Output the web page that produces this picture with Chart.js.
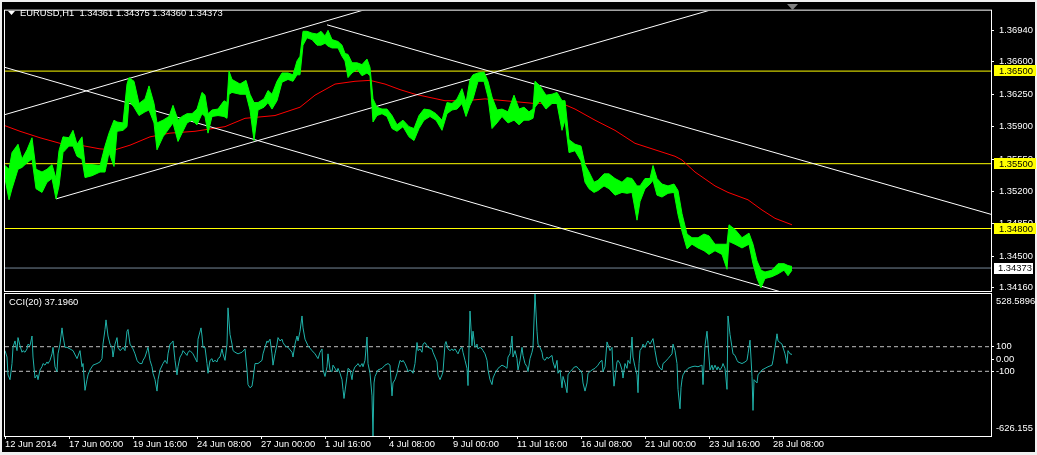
<!DOCTYPE html>
<html>
<head>
<meta charset="utf-8">
<title>EURUSD,H1</title>
<script src="https://cdn.jsdelivr.net/npm/chart.js@4.4.0/dist/chart.umd.min.js"></script>
<style>
    html, body { margin: 0; padding: 0; background: #f0f0f0; }
    #wrap { position: relative; width: 1037px; height: 455px; overflow: hidden; }
    #bg { position: absolute; left: 2px; top: 2px; width: 1033px; height: 450px; background: #000; }
    canvas { position: absolute; left: 0; top: 0; }
</style>
</head>
<body>
<div id="wrap">
    <div id="bg"></div>
    <canvas id="priceChart" width="1037" height="455"></canvas>
    <canvas id="cciChart" width="1037" height="455"></canvas>
</div>
<script>
// EURUSD H1 - price window + CCI(20) window
// x values are bar numbers (1 bar = 1 hour, first visible bar = 0)

const xTickBars = [0, 64, 128, 192, 256, 320, 384, 448, 512, 576, 640, 704, 768];
const xTickLabels = ['12 Jun 2014', '17 Jun 00:00', '19 Jun 16:00', '24 Jun 08:00', '27 Jun 00:00',
    '1 Jul 16:00', '4 Jul 08:00', '9 Jul 00:00', '11 Jul 16:00', '16 Jul 08:00',
    '21 Jul 00:00', '23 Jul 16:00', '28 Jul 08:00'];

const priceTicks = [1.36940, 1.36600, 1.36250, 1.35900, 1.35550, 1.35200, 1.34850, 1.34500, 1.34160];
const levelLines = [1.36500, 1.35500, 1.34800];
const bidPrice = 1.34373;
const quote = ['1.34361', '1.34375', '1.34360', '1.34373'];

// price bars, grouped: high / low of each group
const barIdx = [
    0, 4, 7, 13, 17, 22, 27, 31, 37, 42,
    47, 51, 54, 58, 64, 68, 72, 77, 80, 87,
    95, 100, 104, 109, 112, 118, 122, 124, 129, 134,
    140, 144, 149, 152, 158, 164, 168, 173, 177, 182,
    187, 192, 197, 200, 203, 207, 213, 219, 222, 224,
    227, 235, 241, 245, 249, 253, 259, 263, 267, 272,
    277, 283, 288, 292, 295, 298, 302, 307, 312, 316,
    320, 323, 327, 333, 337, 340, 343, 347, 352, 357,
    362, 365, 368, 372, 377, 382, 387, 392, 398, 404,
    409, 414, 419, 425, 431, 437, 442, 447, 452, 457,
    461, 465, 468, 473, 479, 483, 487, 492, 497, 503,
    509, 514, 519, 524, 528, 530, 535, 541, 547, 552,
    557, 560, 564, 570, 576, 580, 584, 589, 593, 599,
    604, 610, 617, 622, 627, 632, 635, 640, 645, 648,
    652, 657, 663, 669, 673, 677, 682, 687, 693, 699,
    704, 710, 717, 722, 724, 730, 737, 744, 748, 752,
    756, 760, 767, 773, 779, 783, 787
];
const barHigh = [
    1.3548, 1.3544, 1.3562, 1.3571, 1.3555, 1.3565, 1.3578, 1.3544, 1.3541, 1.3544,
    1.3549, 1.3534, 1.3564, 1.3579, 1.3578, 1.3586, 1.3571, 1.3579, 1.3549, 1.3549,
    1.3548, 1.3569, 1.3583, 1.3597, 1.3595, 1.3594, 1.3636, 1.3643, 1.3639, 1.3615,
    1.3620, 1.3634, 1.3615, 1.3594, 1.3597, 1.3601, 1.3613, 1.3597, 1.3601, 1.3604,
    1.3604, 1.3609, 1.3627, 1.3624, 1.3604, 1.3608, 1.3609, 1.3618, 1.3616, 1.3650,
    1.3641, 1.3636, 1.3640, 1.3625, 1.3616, 1.3616, 1.3620, 1.3629, 1.3625, 1.3639,
    1.3648, 1.3648, 1.3646, 1.3661, 1.3666, 1.3693, 1.3693, 1.3691, 1.3690, 1.3693,
    1.3688, 1.3694, 1.3684, 1.3682, 1.3678, 1.3669, 1.3668, 1.3659, 1.3659, 1.3657,
    1.3663, 1.3654, 1.3620, 1.3611, 1.3609, 1.3609, 1.3602, 1.3592, 1.3597, 1.3590,
    1.3588, 1.3602, 1.3609, 1.3608, 1.3604, 1.3597, 1.3616, 1.3615, 1.3620, 1.3631,
    1.3616, 1.3641, 1.3646, 1.3648, 1.3649, 1.3639, 1.3622, 1.3608, 1.3609, 1.3606,
    1.3624, 1.3609, 1.3611, 1.3606, 1.3609, 1.3639, 1.3634, 1.3624, 1.3625, 1.3627,
    1.3618, 1.3618, 1.3576, 1.3571, 1.3569, 1.3549, 1.3541, 1.3530, 1.3532, 1.3539,
    1.3539, 1.3534, 1.3530, 1.3535, 1.3534, 1.3526, 1.3526, 1.3534, 1.3534, 1.3548,
    1.3534, 1.3528, 1.3526, 1.3528, 1.3521, 1.3496, 1.3474, 1.3470, 1.3470, 1.3474,
    1.3472, 1.3463, 1.3463, 1.3463, 1.3484, 1.3479, 1.3470, 1.3475, 1.3463, 1.3445,
    1.3435, 1.3433, 1.3435, 1.3442, 1.3442, 1.3440, 1.3439
];
const barLow = [
    1.3534, 1.3511, 1.3523, 1.3544, 1.3546, 1.3551, 1.3555, 1.3523, 1.3519, 1.3530,
    1.3534, 1.3512, 1.3526, 1.3562, 1.3569, 1.3569, 1.3558, 1.3555, 1.3535, 1.3537,
    1.3541, 1.3541, 1.3562, 1.3547, 1.3585, 1.3586, 1.3590, 1.3618, 1.3611, 1.3602,
    1.3606, 1.3608, 1.3594, 1.3565, 1.3579, 1.3588, 1.3594, 1.3574, 1.3583, 1.3594,
    1.3597, 1.3592, 1.3604, 1.3601, 1.3583, 1.3601, 1.3602, 1.3601, 1.3599, 1.3625,
    1.3627, 1.3625, 1.3625, 1.3608, 1.3575, 1.3608, 1.3611, 1.3616, 1.3609, 1.3618,
    1.3638, 1.3641, 1.3639, 1.3646, 1.3646, 1.3678, 1.3686, 1.3684, 1.3678, 1.3678,
    1.3680, 1.3677, 1.3675, 1.3675, 1.3666, 1.3661, 1.3643, 1.3648, 1.3652, 1.3645,
    1.3648, 1.3645, 1.3595, 1.3602, 1.3604, 1.3601, 1.3588, 1.3585, 1.3590, 1.3579,
    1.3575, 1.3588, 1.3597, 1.3601, 1.3597, 1.3586, 1.3604, 1.3608, 1.3609, 1.3615,
    1.3601, 1.3613, 1.3620, 1.3639, 1.3639, 1.3622, 1.3588, 1.3594, 1.3601, 1.3594,
    1.3597, 1.3592, 1.3597, 1.3597, 1.3599, 1.3611, 1.3618, 1.3609, 1.3615, 1.3615,
    1.3586, 1.3597, 1.3562, 1.3564, 1.3553, 1.3530, 1.3523, 1.3519, 1.3521, 1.3526,
    1.3523, 1.3516, 1.3519, 1.3518, 1.3519, 1.3489, 1.3509, 1.3523, 1.3528, 1.3532,
    1.3516, 1.3514, 1.3518, 1.3519, 1.3495, 1.3477, 1.3458, 1.3463, 1.3459, 1.3456,
    1.3452, 1.3456, 1.3452, 1.3436, 1.3466, 1.3463, 1.3459, 1.3463, 1.3442, 1.3426,
    1.3416, 1.3426, 1.3428, 1.3431, 1.3435, 1.3429, 1.3435
];

// red moving average
const maIdx = [0, 15, 35, 55, 75, 95, 110, 125, 145, 165,
    190, 220, 240, 270, 295, 310, 330, 350, 365, 380,
    395, 410, 440, 460, 480, 500, 530, 555, 570, 590,
    610, 630, 650, 670, 677, 690, 710, 723, 743, 757,
    770, 787];
const maValue = [1.3591, 1.3585, 1.3578, 1.3572, 1.3570, 1.3566, 1.3565, 1.3570, 1.3579, 1.3583,
    1.3585, 1.3590, 1.3599, 1.3602, 1.3611, 1.3624, 1.3636, 1.3639, 1.3640, 1.3636,
    1.3630, 1.3625, 1.3618, 1.3618, 1.3620, 1.3618, 1.3615, 1.3616, 1.3609, 1.3597,
    1.3586, 1.3572, 1.3565, 1.3558, 1.3554, 1.3541, 1.3526, 1.3519, 1.3511, 1.3500,
    1.3491, 1.3484];

// trend lines: [bar, price] anchors
const trendStart = [[0, 1.3654], [322, 1.3700], [0, 1.3603], [51, 1.3512]];
const trendEnd = [[800, 1.3404], [987, 1.3495], [400, 1.3729], [760, 1.3733]];

// CCI(20)
const cciIdx = [
    0, 2, 3, 5, 7, 8, 10, 12, 13, 15,
    17, 18, 20, 22, 23, 25, 27, 28, 30, 32,
    33, 35, 37, 38, 40, 42, 43, 45, 47, 48,
    50, 52, 53, 55, 57, 58, 60, 62, 65, 68,
    72, 75, 77, 78, 80, 82, 83, 85, 88, 92,
    95, 97, 98, 100, 101, 103, 105, 107, 108, 110,
    112, 113, 115, 117, 118, 120, 122, 123, 125, 127,
    128, 130, 132, 133, 135, 137, 138, 140, 142, 143,
    145, 147, 148, 150, 152, 153, 155, 158, 160, 162,
    163, 165, 167, 168, 170, 172, 173, 175, 177, 178,
    182, 183, 185, 188, 192, 193, 196, 197, 198, 200,
    202, 203, 205, 207, 208, 210, 212, 213, 215, 217,
    218, 220, 222, 223, 225, 227, 228, 230, 233, 237,
    240, 242, 243, 245, 247, 248, 250, 253, 257, 258,
    260, 262, 263, 265, 267, 268, 270, 272, 273, 275,
    277, 278, 280, 283, 287, 288, 290, 292, 293, 295,
    297, 298, 300, 303, 307, 310, 313, 315, 317, 318,
    320, 322, 323, 325, 327, 328, 330, 332, 333, 335,
    337, 338, 339, 342, 343, 345, 347, 348, 350, 352,
    353, 355, 357, 358, 360, 362, 363, 365, 367, 368,
    369, 370, 373, 377, 380, 383, 385, 387, 388, 390,
    392, 393, 395, 397, 398, 400, 402, 403, 405, 407,
    408, 410, 412, 413, 415, 417, 418, 420, 422, 423,
    427, 428, 430, 432, 433, 435, 437, 438, 440, 441,
    443, 445, 447, 448, 450, 452, 453, 455, 457, 458,
    460, 462, 463, 465, 467, 468, 470, 472, 473, 475,
    477, 478, 480, 482, 483, 485, 487, 488, 490, 493,
    497, 500, 502, 503, 505, 507, 508, 510, 512, 513,
    515, 517, 518, 520, 522, 523, 525, 527, 528, 530,
    532, 533, 535, 537, 538, 540, 542, 543, 545, 547,
    548, 550, 552, 553, 555, 557, 558, 560, 562, 563,
    565, 567, 568, 570, 572, 573, 575, 577, 578, 580,
    582, 583, 587, 590, 593, 595, 597, 598, 600, 602,
    605, 607, 608, 609, 612, 613, 615, 617, 618, 620,
    622, 623, 625, 627, 628, 630, 632, 633, 634, 635,
    637, 638, 640, 642, 643, 645, 648, 650, 652, 653,
    655, 657, 658, 660, 663, 667, 668, 670, 672, 673,
    675, 676, 677, 678, 680, 683, 687, 690, 693, 697,
    698, 700, 702, 703, 705, 707, 708, 710, 712, 713,
    715, 717, 718, 720, 722, 723, 725, 727, 728, 730,
    732, 733, 737, 740, 742, 743, 745, 747, 748, 749,
    752, 753, 757, 760, 763, 767, 768, 770, 772, 773,
    777, 778, 780, 782, 783, 785, 787
];
const cciValue = [
    68, 16, -129, -168, -37, 95, 147, 68, 174, 108,
    55, 68, 55, 82, 121, 108, 187, 16, -155, -129,
    -168, -89, -63, -37, -50, -24, -37, -11, 42, 95,
    -63, -103, 42, 121, 253, 187, 95, 95, 82, 68,
    3, 68, -63, -37, -255, -168, -129, -89, -50, -37,
    -24, 3, 121, 240, 318, 187, 121, 95, 16, 121,
    174, 95, 68, 82, 95, 68, 226, 240, 121, 95,
    82, 42, -11, -24, -37, -37, -11, 16, 68, 95,
    -11, -63, -116, -168, -261, -168, -89, -37, -11, -37,
    42, 121, 134, 147, -11, -129, -63, 16, 42, 68,
    29, 55, 68, 42, -24, 161, 253, 187, 95, 95,
    -37, -116, -11, 3, -24, -11, -24, 3, 16, 82,
    42, -11, 121, 416, 200, 121, 68, 55, 42, 55,
    82, -89, -208, -234, -221, -168, -37, -37, -11, 42,
    95, 147, 134, 161, 42, -50, 42, 121, 174, 147,
    161, 134, 108, 95, 55, 16, 121, 187, 147, 226,
    350, 253, 161, 108, 68, 42, 3, 55, 82, -89,
    -142, -63, 42, -89, -103, -50, -76, -103, -76, -116,
    -168, -247, -321, -142, -76, -89, -168, -103, -63, -50,
    -37, -63, -37, -63, -11, 179, -37, -116, -300, -626.155,
    -195, -142, -89, -76, -50, -37, -50, -300, -195, -168,
    -116, -76, -11, -24, -11, -37, -76, -103, -89, -103,
    -116, -37, 134, 68, 82, 55, 121, 134, 108, 95,
    82, 55, 16, -24, -129, -168, -129, -103, 121, 142,
    82, 68, 82, 68, 82, 55, 42, 82, 95, 55,
    -11, -76, -216, 390, 108, 226, 95, 121, 82, 95,
    82, 68, 42, -11, -89, -168, -208, -155, -116, -76,
    -50, -63, -76, 16, 42, 187, 16, 68, 3, -89,
    -11, 95, 29, -37, -63, -103, 3, 55, 95, 528.5896,
    226, 121, 95, 55, 3, -11, 16, 3, 16, 29,
    -24, -76, -11, -116, -89, -234, -142, -195, -274, -129,
    -103, -89, -76, -63, -63, -76, -89, -116, -195, -261,
    -195, -116, -89, -76, -50, -24, -11, -103, -63, 139,
    68, 95, -89, -221, -24, -11, -37, -89, -155, -37,
    -76, -11, -37, 179, 16, -63, -129, -274, -37, 68,
    95, 121, 95, 134, 147, 121, 166, 68, -24, -50,
    -76, -89, -37, -24, 3, 42, 121, 68, -37, -247,
    -405, -234, -168, -129, -103, -76, -63, -58, -63, -50,
    -208, 108, 226, 121, -89, -50, -89, -50, -89, -63,
    -89, -63, -37, -76, -247, 350, 200, 95, 42, 29,
    -11, -24, -37, -24, -11, 42, 153, -142, -418, -168,
    -195, -129, -89, -76, -63, -50, -11, 95, 205, 147,
    121, 95, 42, -37, 68, 42, 37.196
];
const cciLevels = [100, -100];
const cciTicks = [100, 0, -100];
const cciMax = 528.5896;
const cciMin = -626.155;

const X_MAX = 986;
const PRICE_MIN = 1.34125;
const PRICE_MAX = 1.37153;
const FONT_FAMILY = '"Liberation Sans", Arial, sans-serif';
const FONT_SIZE = 9.4;

Chart.defaults.font.family = FONT_FAMILY;
Chart.defaults.font.size = FONT_SIZE;
Chart.defaults.color = '#ffffff';

function pts(xs, ys) {
    return xs.map((x, i) => ({ x: x, y: ys[i] }));
}

function flatLine(v, color, dash) {
    return {
        data: [{ x: 0, y: v }, { x: X_MAX, y: v }],
        borderColor: color,
        borderWidth: 1,
        borderDash: dash || [],
        pointRadius: 0,
        fill: false
    };
}

// white frame round a chart window
const framePlugin = {
    id: 'frame',
    afterDraw(chart) {
        const { ctx, chartArea: a } = chart;
        ctx.save();
        ctx.strokeStyle = '#ffffff';
        ctx.lineWidth = 1;
        ctx.strokeRect(a.left - 0.5, a.top - 0.5, a.right - a.left + 1, a.bottom - a.top + 1);
        ctx.restore();
    }
};

// price tags on the right axis, title, shift marker
const priceTagPlugin = {
    id: 'priceTags',
    afterDraw(chart) {
        const ctx = chart.ctx;
        const ys = chart.scales.y;
        ctx.save();
        ctx.font = FONT_SIZE + 'px ' + FONT_FAMILY;
        ctx.textBaseline = 'middle';
        ctx.textAlign = 'left';

        levelLines.forEach(v => {
            const py = Math.round(ys.getPixelForValue(v));
            ctx.fillStyle = '#ffff00';
            ctx.fillRect(994, py - 6, 42, 11);
            ctx.fillStyle = '#000000';
            ctx.fillText(v.toFixed(5), 999, py);
        });

        const by = Math.round(ys.getPixelForValue(bidPrice));
        ctx.fillStyle = '#ffffff';
        ctx.fillRect(994, by - 5, 39, 11);
        ctx.fillStyle = '#000000';
        ctx.fillText(bidPrice.toFixed(5), 998, by + 0.5);

        // title
        ctx.fillStyle = '#ffffff';
        ctx.beginPath();
        ctx.moveTo(8, 11);
        ctx.lineTo(15, 11);
        ctx.lineTo(11.5, 15);
        ctx.closePath();
        ctx.fill();
        ctx.fillText('EURUSD,H1  ' + quote.join(' '), 20, 13);

        // chart shift marker
        ctx.fillStyle = '#808080';
        ctx.beginPath();
        ctx.moveTo(787, 4);
        ctx.lineTo(798, 4);
        ctx.lineTo(792.5, 10);
        ctx.closePath();
        ctx.fill();
        ctx.restore();
    }
};

const cciTagPlugin = {
    id: 'cciTags',
    afterDraw(chart) {
        const ctx = chart.ctx;
        ctx.save();
        ctx.font = FONT_SIZE + 'px ' + FONT_FAMILY;
        ctx.textBaseline = 'middle';
        ctx.textAlign = 'left';
        ctx.fillStyle = '#ffffff';
        ctx.fillText('CCI(20) ' + cciValue[cciValue.length - 1].toFixed(4), 9, 302);
        ctx.fillText(cciMax.toFixed(4), 996, 301);
        ctx.fillText(cciMin.toFixed(3), 996, 428);
        ctx.restore();
    }
};

const baseOptions = {
    responsive: false,
    animation: false,
    events: [],
    plugins: { legend: { display: false }, tooltip: { enabled: false } },
    elements: { point: { radius: 0 }, line: { tension: 0 } }
};

// Chart: price window
new Chart(document.getElementById('priceChart').getContext('2d'), {
    type: 'line',
    data: {
        datasets: [
            { data: pts(barIdx, barHigh), borderColor: '#00ff00', borderWidth: 1, pointRadius: 0, fill: false },
            { data: pts(barIdx, barLow), borderColor: '#00ff00', borderWidth: 1, pointRadius: 0,
              fill: '-1', backgroundColor: '#00ff00' },
            ...trendStart.map((s, i) => ({
                data: [{ x: s[0], y: s[1] }, { x: trendEnd[i][0], y: trendEnd[i][1] }],
                borderColor: '#ffffff', borderWidth: 1, pointRadius: 0, fill: false
            })),
            { data: pts(maIdx, maValue), borderColor: '#ff0000', borderWidth: 1, pointRadius: 0, fill: false },
            ...levelLines.map(v => flatLine(v, '#ffff00')),
            flatLine(bidPrice, '#778899')
        ]
    },
    options: {
        ...baseOptions,
        layout: { autoPadding: false, padding: { left: 5, top: 5, right: 0, bottom: 164 } },
        scales: {
            x: { type: 'linear', min: 0, max: X_MAX, display: false },
            y: {
                position: 'right',
                min: PRICE_MIN,
                max: PRICE_MAX,
                afterBuildTicks: s => { s.ticks = priceTicks.map(v => ({ value: v })); },
                afterFit: s => { s.width = 46; },
                ticks: { color: '#ffffff', padding: 5, callback: v => Number(v).toFixed(5) },
                grid: { drawOnChartArea: false, drawTicks: true, tickLength: 3, color: '#ffffff' },
                border: { display: false }
            }
        }
    },
    plugins: [framePlugin, priceTagPlugin]
});

// Chart: CCI window
new Chart(document.getElementById('cciChart').getContext('2d'), {
    type: 'line',
    data: {
        datasets: [
            { data: pts(cciIdx, cciValue), borderColor: '#20b2aa', borderWidth: 1, pointRadius: 0, fill: false },
            ...cciLevels.map(v => flatLine(v, '#c0c0c0', [4, 3]))
        ]
    },
    options: {
        ...baseOptions,
        layout: { autoPadding: false, padding: { left: 5, top: 294, right: 0, bottom: 2 } },
        scales: {
            x: {
                type: 'linear',
                min: 0,
                max: X_MAX,
                afterBuildTicks: s => { s.ticks = xTickBars.map(v => ({ value: v })); },
                afterFit: s => { s.height = 17; },
                ticks: {
                    color: '#ffffff', align: 'start', padding: 0, maxRotation: 0, autoSkip: false,
                    callback: (v, i) => xTickLabels[i]
                },
                grid: { drawOnChartArea: false, drawTicks: true, tickLength: 3, color: '#ffffff' },
                border: { display: false }
            },
            y: {
                position: 'right',
                min: cciMin,
                max: cciMax,
                afterBuildTicks: s => { s.ticks = cciTicks.map(v => ({ value: v })); },
                afterFit: s => { s.width = 46; },
                ticks: { color: '#ffffff', padding: 2, callback: v => (v === 0 ? '0.00' : String(v)) },
                grid: { drawOnChartArea: false, drawTicks: true, tickLength: 3, color: '#ffffff' },
                border: { display: false }
            }
        }
    },
    plugins: [framePlugin, cciTagPlugin]
});
</script>
</body>
</html>
